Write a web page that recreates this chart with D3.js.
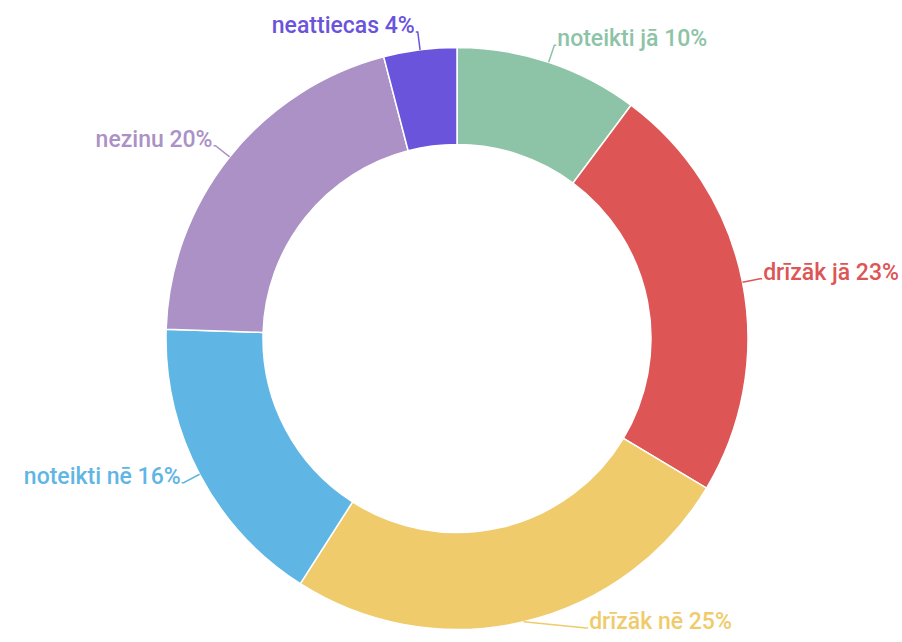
<!DOCTYPE html>
<html>
<head>
<meta charset="utf-8">
<script src="https://cdn.jsdelivr.net/npm/d3@7"></script>
<style>
  body { margin: 0; background: #fff; }
  text { font-family: Roboto, "Noto Sans", sans-serif; font-weight: 500; }
</style>
</head>
<body>
<svg id="chart" width="902" height="642"></svg>
<script>
'use strict';

// answers, clockwise from 12 o'clock
var categories = ['noteikti jā', 'drīzāk jā', 'drīzāk nē', 'noteikti nē', 'nezinu', 'neattiecas'];
var shares = [10.2, 23.4, 25.45, 16.45, 20.45, 4.05];
var colors = ['#8dc3a7', '#dd5555', '#efcb6b', '#5fb6e4', '#ab91c6', '#6a54db'];

var width = 902, height = 642;
var cx = 457, cy = 338.5;
var outerR = 291, innerR = 194;

var data = categories.map(function (c, i) {
  return { name: c, value: shares[i], color: colors[i] };
});

var svg = d3.select('#chart');
var g = svg.append('g').attr('transform', 'translate(' + cx + ',' + cy + ')');

var pie = d3.pie().sort(null).value(function (d) { return d.value; });
var arc = d3.arc().innerRadius(innerR).outerRadius(outerR);
var arcs = pie(data);

g.selectAll('path.slice').data(arcs).enter().append('path')
  .attr('class', 'slice')
  .attr('d', arc)
  .attr('fill', function (d) { return d.data.color; })
  .attr('stroke', '#fff')
  .attr('stroke-width', 1.5);

// label layout: leader line out along the mid angle, kept inside the picture
var labelR = outerR + 18;
var yMin = 28 - cy, yMax = 628 - cy;
function polar(r, a) { return [r * Math.sin(a), -r * Math.cos(a)]; }

arcs.forEach(function (d) {
  var a = (d.startAngle + d.endAngle) / 2;
  var p0 = polar(outerR, a);
  var p1 = polar(labelR, a);
  var side = Math.sin(a) >= 0 ? 1 : -1;
  if (p1[1] > yMax || p1[1] < yMin) {
    p1[1] = Math.max(yMin, Math.min(yMax, p1[1]));
    p1[0] = side * Math.sqrt(Math.pow(labelR + 8, 2) - p1[1] * p1[1]);
  }
  d.p0 = p0; d.p1 = p1; d.side = side;
});

g.selectAll('polyline.lead').data(arcs).enter().append('polyline')
  .attr('class', 'lead')
  .attr('points', function (d) {
    return [d.p0, d.p1, [d.p1[0] + d.side * 2, d.p1[1]]].map(function (p) { return p.join(','); }).join(' ');
  })
  .attr('fill', 'none')
  .attr('stroke', function (d) { return d.data.color; })
  .attr('stroke-width', 1.5);

// text sits on the end of the leader, baseline just below it
g.selectAll('text.label').data(arcs).enter().append('text')
  .attr('class', 'label')
  .attr('x', function (d) { return d.p1[0] + d.side * 3; })
  .attr('y', function (d) { return d.p1[1] + 1; })
  .attr('text-anchor', function (d) { return d.side > 0 ? 'start' : 'end'; })
  .attr('fill', function (d) { return d.data.color; })
  .attr('font-size', 23)
  .text(function (d) { return d.data.name + ' ' + Math.round(d.data.value) + '%'; });
</script>
</body>
</html>
